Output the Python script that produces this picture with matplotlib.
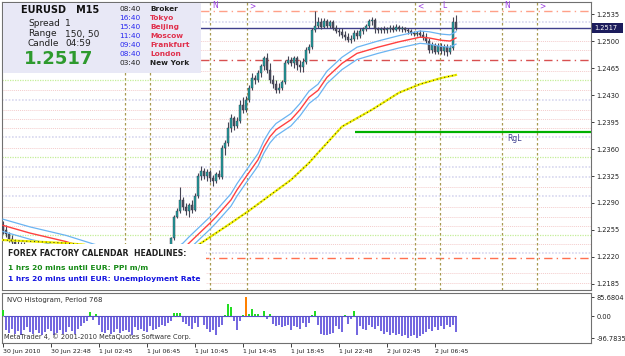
import numpy as np
import matplotlib
matplotlib.use("Agg")
import matplotlib.pyplot as plt
from matplotlib.patches import Rectangle

# ---- data ----
opens = [1.2262, 1.2255, 1.2250, 1.2243, 1.2240, 1.2236, 1.2233, 1.2231,
         1.2229, 1.2225, 1.2220, 1.2214, 1.2210, 1.2215, 1.2208, 1.2203,
         1.2206, 1.2200, 1.2197, 1.2202, 1.2207, 1.2204, 1.2210, 1.2214,
         1.2211, 1.2216, 1.2220, 1.2218, 1.2223, 1.2219, 1.2224, 1.2221,
         1.2226, 1.2222, 1.2217, 1.2212, 1.2215, 1.2209, 1.2205, 1.2210,
         1.2206, 1.2212, 1.2208, 1.2214, 1.2211, 1.2217, 1.2213, 1.2219,
         1.2215, 1.2220, 1.2216, 1.2222, 1.2218, 1.2224, 1.2221, 1.2226,
         1.2235, 1.2244, 1.2272, 1.2279, 1.2294, 1.2285, 1.2279, 1.2288,
         1.2281, 1.2299, 1.2325, 1.2331, 1.2325, 1.2330, 1.2322, 1.2318,
         1.2327, 1.2324, 1.2361, 1.2368, 1.2387, 1.2400, 1.2390, 1.2396,
         1.2417, 1.2411, 1.2424, 1.2439, 1.2452, 1.2449, 1.2459, 1.2468,
         1.2478, 1.2462, 1.2449, 1.2444, 1.2437, 1.2439, 1.2447, 1.2472,
         1.2475, 1.2471, 1.2478, 1.2469, 1.2466, 1.2473, 1.2488, 1.2492,
         1.2514, 1.2519, 1.2525, 1.2518, 1.2526, 1.2519, 1.2525, 1.2517,
         1.2513, 1.2512, 1.2508, 1.2505, 1.2501, 1.2503, 1.2510, 1.2506,
         1.2513, 1.2516, 1.2519, 1.2526, 1.2527, 1.2516, 1.2514, 1.2516,
         1.2514, 1.2516, 1.2517, 1.2514, 1.2518, 1.2516, 1.2517, 1.2514,
         1.2513, 1.2510, 1.2509, 1.2510, 1.2508, 1.2505, 1.2500, 1.2488,
         1.2495, 1.2486, 1.2493, 1.2487, 1.2492, 1.2486, 1.2491, 1.2525]
highs = [1.2267, 1.2262, 1.2253, 1.2248, 1.2243, 1.2241, 1.2240, 1.2239,
         1.2232, 1.2228, 1.2223, 1.2217, 1.2218, 1.2217, 1.2211, 1.2209,
         1.2209, 1.2203, 1.2205, 1.2210, 1.2210, 1.2213, 1.2217, 1.2217,
         1.2219, 1.2223, 1.2223, 1.2226, 1.2226, 1.2227, 1.2227, 1.2229,
         1.2229, 1.2225, 1.2220, 1.2218, 1.2218, 1.2212, 1.2213, 1.2213,
         1.2215, 1.2215, 1.2217, 1.2217, 1.2220, 1.2220, 1.2222, 1.2222,
         1.2223, 1.2223, 1.2225, 1.2225, 1.2227, 1.2227, 1.2229, 1.2234,
         1.2246, 1.2275, 1.2284, 1.2311, 1.2298, 1.2290, 1.2290, 1.2294,
         1.2303, 1.2329, 1.2338, 1.2335, 1.2334, 1.2333, 1.2326, 1.2330,
         1.2333, 1.2365, 1.2372, 1.2395, 1.2405, 1.2403, 1.2402, 1.2424,
         1.2427, 1.2429, 1.2443, 1.2459, 1.2456, 1.2462, 1.2470, 1.2481,
         1.2484, 1.2471, 1.2456, 1.2449, 1.2446, 1.2449, 1.2475, 1.2481,
         1.2479, 1.2481, 1.2481, 1.2475, 1.2478, 1.2492, 1.2496, 1.2517,
         1.2539, 1.2531, 1.2530, 1.2530, 1.2529, 1.2527, 1.2527, 1.2521,
         1.2517, 1.2517, 1.2513, 1.2510, 1.2508, 1.2514, 1.2514, 1.2517,
         1.2518, 1.2522, 1.2529, 1.2531, 1.2530, 1.2518, 1.2518, 1.2519,
         1.2518, 1.2521, 1.2521, 1.2522, 1.2521, 1.2519, 1.2518, 1.2517,
         1.2516, 1.2513, 1.2513, 1.2514, 1.2513, 1.2510, 1.2504, 1.2499,
         1.2497, 1.2497, 1.2497, 1.2496, 1.2496, 1.2495, 1.2531, 1.2534]
lows = [1.2250, 1.2246, 1.2240, 1.2236, 1.2232, 1.2230, 1.2228, 1.2226,
        1.2222, 1.2217, 1.2211, 1.2207, 1.2207, 1.2205, 1.2200, 1.2200,
        1.2197, 1.2194, 1.2195, 1.2199, 1.2201, 1.2202, 1.2207, 1.2208,
        1.2208, 1.2213, 1.2215, 1.2215, 1.2216, 1.2216, 1.2218, 1.2218,
        1.2219, 1.2214, 1.2209, 1.2210, 1.2206, 1.2202, 1.2203, 1.2203,
        1.2204, 1.2205, 1.2206, 1.2208, 1.2209, 1.2210, 1.2211, 1.2212,
        1.2213, 1.2213, 1.2214, 1.2215, 1.2216, 1.2218, 1.2219, 1.2223,
        1.2229, 1.2242, 1.2270, 1.2277, 1.2281, 1.2275, 1.2272, 1.2277,
        1.2279, 1.2296, 1.2320, 1.2321, 1.2319, 1.2317, 1.2312, 1.2316,
        1.2321, 1.2321, 1.2352, 1.2364, 1.2382, 1.2385, 1.2387, 1.2394,
        1.2407, 1.2408, 1.2421, 1.2436, 1.2444, 1.2447, 1.2453, 1.2462,
        1.2459, 1.2446, 1.2439, 1.2433, 1.2433, 1.2437, 1.2444, 1.2470,
        1.2468, 1.2465, 1.2462, 1.2460, 1.2460, 1.2470, 1.2484, 1.2490,
        1.2512, 1.2517, 1.2516, 1.2517, 1.2517, 1.2517, 1.2514, 1.2510,
        1.2506, 1.2504, 1.2501, 1.2499, 1.2497, 1.2500, 1.2503, 1.2504,
        1.2509, 1.2513, 1.2517, 1.2521, 1.2510, 1.2510, 1.2510, 1.2510,
        1.2510, 1.2512, 1.2512, 1.2513, 1.2513, 1.2512, 1.2512, 1.2509,
        1.2508, 1.2506, 1.2506, 1.2505, 1.2501, 1.2497, 1.2484, 1.2484,
        1.2483, 1.2483, 1.2483, 1.2482, 1.2480, 1.2483, 1.2488, 1.2514]
closes = [1.2255, 1.2250, 1.2243, 1.2240, 1.2236, 1.2233, 1.2231, 1.2229,
          1.2225, 1.2220, 1.2214, 1.2210, 1.2215, 1.2208, 1.2203, 1.2206,
          1.2200, 1.2197, 1.2202, 1.2207, 1.2204, 1.2210, 1.2214, 1.2211,
          1.2216, 1.2220, 1.2218, 1.2223, 1.2219, 1.2224, 1.2221, 1.2226,
          1.2222, 1.2217, 1.2212, 1.2215, 1.2209, 1.2205, 1.2210, 1.2206,
          1.2212, 1.2208, 1.2214, 1.2211, 1.2217, 1.2213, 1.2219, 1.2215,
          1.2220, 1.2216, 1.2222, 1.2218, 1.2224, 1.2221, 1.2226, 1.2233,
          1.2244, 1.2272, 1.2279, 1.2294, 1.2285, 1.2279, 1.2288, 1.2281,
          1.2299, 1.2325, 1.2331, 1.2325, 1.2330, 1.2322, 1.2318, 1.2327,
          1.2324, 1.2361, 1.2368, 1.2387, 1.2400, 1.2390, 1.2396, 1.2417,
          1.2411, 1.2424, 1.2439, 1.2452, 1.2449, 1.2459, 1.2468, 1.2478,
          1.2462, 1.2449, 1.2444, 1.2437, 1.2439, 1.2447, 1.2472, 1.2475,
          1.2471, 1.2478, 1.2469, 1.2466, 1.2473, 1.2488, 1.2492, 1.2514,
          1.2519, 1.2525, 1.2518, 1.2526, 1.2519, 1.2525, 1.2517, 1.2513,
          1.2512, 1.2508, 1.2505, 1.2501, 1.2503, 1.2510, 1.2506, 1.2513,
          1.2516, 1.2519, 1.2526, 1.2527, 1.2516, 1.2514, 1.2516, 1.2514,
          1.2516, 1.2517, 1.2514, 1.2518, 1.2516, 1.2517, 1.2514, 1.2513,
          1.2510, 1.2509, 1.2510, 1.2508, 1.2505, 1.2500, 1.2488, 1.2495,
          1.2486, 1.2493, 1.2487, 1.2492, 1.2486, 1.2491, 1.2525, 1.2517]

# NVO histogram (one value per bar)
nvo = [30, -60, -75, -55, -80, -65, -85, -60, -50, -70, -80, -60, -75, -85, -70, -55,
       -65, -85, -75, -60, -80, -70, -50, -65, -80, -55, -45, -30, -20, 18, -15, 12,
       -40, -70, -75, -60, -80, -70, -55, -75, -65, -60, -70, -85, -50, -60, -55, -65,
       -70, -45, -60, -55, -50, -40, -45, -30, -20, 15, 15, 15, -25, -35, -45, -55,
       -30, -50, 3, -40, -55, -70, -60, -85, -50, -40, 6, 56, 41, -20, -62, -20,
       5, 85.6804, 10, 32, 10, 10, -5, 25, -10, 10, -35, -45, -40, -50, -45, -40,
       -60, -45, -50, -55, -30, -50, -30, 5, 22, -40, -80, -85, -85, -80, -75, -45,
       -55, -70, 5, -35, -12, 22, -85, -45, -55, -60, -40, -50, -55, -45, -65, -80,
       -70, -85, -75, -85, -80, -90, -85, -95, -90, -85, -96.7835, -90, -80, -70, -55, -65,
       -50, -60, -45, -55, -40, -50, -40, -70]

# moving averages (bar index, price)
ma_x = [0, 9, 21, 30, 40, 50, 57, 60, 62, 69, 71, 76, 78, 81, 85, 87, 89, 91, 96, 99,
        102, 105, 108, 113, 118, 125, 132, 139, 142, 146, 149, 151]
ma_mid = [1.2261, 1.2251, 1.2240, 1.2229, 1.2218, 1.2214, 1.2222, 1.2230, 1.2238,
          1.2264, 1.2272, 1.2294, 1.2307, 1.2324, 1.2346, 1.2363, 1.2376, 1.2385,
          1.2398, 1.2411, 1.2427, 1.2436, 1.2453, 1.2471, 1.2484, 1.2492, 1.2499,
          1.2505, 1.2504, 1.2501, 1.2500, 1.2504]
band = 0.0008
slow_x = [0, 21, 27, 39, 52, 62, 66, 76, 82, 89, 96, 102, 105, 113, 123, 132, 139, 146, 151]
slow_ma = [1.2242, 1.2238, 1.2236, 1.2222, 1.2216, 1.2228, 1.2238, 1.2264, 1.2280,
           1.2300, 1.2320, 1.2342, 1.2355, 1.2389, 1.2411, 1.2433, 1.2444, 1.2452, 1.2456]

# horizontal levels
pink_levels = [1.2500, 1.2488, 1.2461, 1.2437, 1.2411, 1.2399, 1.2387, 1.2361,
               1.2311, 1.2285, 1.2272, 1.2260, 1.2237, 1.2199, 1.2186]
lav_levels = [1.2525, 1.2424, 1.2376, 1.2337, 1.2324, 1.2299, 1.2225]
green_levels = [1.2449, 1.2350, 1.2249]
bid = 1.2517
rgl = 1.2382
rgl_start = 117.3

# session separators and their tags
vlines = [40.7, 49, 69, 81.3, 137.3, 145.7, 166.3, 178]
vtags = {69: "N", 81.3: ">", 137.3: "<", 145.7: "L", 166.3: "N", 178: ">"}

price_ticks = [1.2535, 1.2500, 1.2465, 1.2430, 1.2395, 1.2360, 1.2325,
               1.2290, 1.2255, 1.2220, 1.2185]
time_pos = [0, 16, 32, 48, 64, 80, 96, 112, 128, 144]
time_labels = ["30 Jun 2010", "30 Jun 22:48", "1 Jul 02:45", "1 Jul 06:45",
               "1 Jul 10:45", "1 Jul 14:45", "1 Jul 18:45", "1 Jul 22:48",
               "2 Jul 02:45", "2 Jul 06:45"]

W, H = 625, 356
fig = plt.figure(figsize=(W / 100, H / 100), dpi=100)
fig.patch.set_facecolor("white")

def box(l, t, r, b):
    return [l / W, 1 - b / H, (r - l) / W, (b - t) / H]

ax = fig.add_axes(box(2, 2, 591, 290))
sub = fig.add_axes(box(2, 293, 591, 343))

idx = np.arange(len(closes))
o = np.array(opens); c = np.array(closes)
hi = np.array(highs); lo = np.array(lows)
xlim = (-0.33, 196)

dots = (0, (1, 1))
for p in pink_levels:
    ax.axhline(p, color="#f4cccc", lw=0.7, ls=dots, zorder=1)
for p in lav_levels:
    ax.axhline(p, color="#d8d8f0", lw=1.2, ls=dots, zorder=1)
for p in green_levels:
    ax.axhline(p, color="#c4ee98", lw=0.9, ls=dots, zorder=1)
dashdot = (0, (6, 3, 1, 3))
ax.axhline(1.2539, color="#ffa088", lw=1.0, ls=dashdot, zorder=1)
ax.axhline(1.2475, color="#d85050", lw=1.0, ls=dashdot, zorder=1)
ax.axhline(1.2219, color="#ff7050", lw=1.0, ls=dashdot, zorder=1)
ax.axhline(bid, color="#40408c", lw=1.0, zorder=2)
ax.hlines(rgl, rgl_start, xlim[1], color="#00b000", lw=1.6, zorder=2)
ax.text(168, rgl - 0.0002, "RgL", color="#404090", fontsize=5.5, va="top")

for v in vlines:
    ax.axvline(v, color="#a89a50", lw=0.9, ls=(0, (2, 2)), zorder=1)
for v, t in vtags.items():
    ax.text(v + 0.7, 1.25455, t, color="#9a3ee0", fontsize=5.5, va="center")

# indicators
ax.plot(ma_x, np.array(ma_mid) + band, color="#6ab4f2", lw=0.9, zorder=5)
ax.plot(ma_x, np.array(ma_mid) - band, color="#6ab4f2", lw=0.9, zorder=5)
ax.plot(ma_x, ma_mid, color="#ff4040", lw=1.0, zorder=5)
ax.plot(slow_x, slow_ma, color="#f0f000", lw=1.6, zorder=5)
ax.plot(slow_x, slow_ma, color="#202020", lw=0.7, ls=(0, (1, 3)), zorder=6)

# candles
up = c >= o
ax.vlines(idx, lo, hi, color="#454555", lw=0.8, zorder=3)
body = np.maximum(np.abs(c - o), 0.00006)
ax.bar(idx, body, bottom=np.minimum(o, c), width=0.62,
       color=np.where(up, "#1f9e9e", "#4e5060"), edgecolor="#353545",
       linewidth=0.3, zorder=4)

ax.set_xlim(*xlim)
ax.set_ylim(1.21772, 1.25506)
ax.yaxis.tick_right()
ax.set_yticks(price_ticks)
ax.set_yticklabels(["%.4f" % p for p in price_ticks])
ax.tick_params(axis="y", length=2, width=0.6, labelsize=4.8, pad=2, colors="#202020")
ax.set_xticks([])
for s in ax.spines.values():
    s.set_color("#707070"); s.set_linewidth(0.8)

# NVO histogram
vals = np.array(nvo)
sub.bar(idx, vals, width=0.66,
        color=[("#ff8000" if v > 80 else "#22dd22") if v > 0 else "#7468e0" for v in vals],
        linewidth=0, zorder=3)
sub.hlines(0, 0, idx[-1], color="#5a50c8", lw=0.8, zorder=4)
sub.set_xlim(*xlim)
sub.set_ylim(-119, 103.5)
sub.yaxis.tick_right()
sub.set_yticks([85.6804, 0, -96.7835])
sub.set_yticklabels(["85.6804", "0.00", "-96.7835"])
sub.tick_params(axis="y", length=2, width=0.6, labelsize=4.8, pad=2, colors="#202020")
sub.set_xticks(time_pos)
sub.set_xticklabels(time_labels, ha="left")
sub.tick_params(axis="x", length=3, width=0.6, labelsize=4.5, pad=1, colors="#202020")
for s in sub.spines.values():
    s.set_color("#707070"); s.set_linewidth(0.8)
sub.text(0.008, 0.86, "NVO Histogram, Period 768", transform=sub.transAxes,
         fontsize=5, color="#303030", va="center")
sub.text(0.003, 0.12, "MetaTrader 4, \u00a9 2001-2010 MetaQuotes Software Corp.",
         transform=sub.transAxes, fontsize=4.8, color="#303030", va="center")

# overlay in pixel coordinates for the label panels
ov = fig.add_axes([0, 0, 1, 1])
ov.set_xlim(0, W); ov.set_ylim(H, 0); ov.axis("off")
ov.add_patch(Rectangle((2.5, 2.5), 198, 70, facecolor="#e8e8f6", edgecolor="none"))
ov.add_patch(Rectangle((2.5, 244), 203, 45.5, facecolor="white", edgecolor="none"))
ov.add_patch(Rectangle((592, 23), 31, 10, facecolor="#1c1c5c", edgecolor="none"))
ov.text(594, 28, "1.2517", color="white", fontsize=4.8, va="center")

ov.text(21, 10, "EURUSD   M15", fontsize=7, fontweight="bold", color="#101010", va="center")
for row, (k, v) in enumerate([("Spread", "1"), ("Range", "150, 50"), ("Candle", "04:59")]):
    ov.text(28, 24 + row * 10, k, fontsize=6.5, color="#202020", va="center")
    ov.text(65, 24 + row * 10, v, fontsize=6.5, color="#202020", va="center")
ov.text(24, 59, "1.2517", fontsize=13, fontweight="bold", color="#2e9a2e", va="center")

times = ["08:40", "16:40", "15:40", "11:40", "09:40", "08:40", "03:40"]
cities = ["Broker", "Tokyo", "Beijing", "Moscow", "Frankfurt", "London", "New York"]
for row, (t, name) in enumerate(zip(times, cities)):
    edge = row in (0, len(times) - 1)
    ov.text(119, 9 + row * 9, t, fontsize=5.3, color="#202020" if edge else "#2828f0", va="center")
    ov.text(150, 9 + row * 9, name, fontsize=5.3, fontweight="bold",
            color="#202020" if edge else "#e0304c", va="center")

ov.text(8, 254, "FOREX FACTORY CALENDAR  HEADLINES:", fontsize=5.6, fontweight="bold",
        color="#202020", va="center")
ov.text(8, 268, "1 hrs 20 mins until EUR: PPI m/m", fontsize=5.4, fontweight="bold",
        color="#168a16", va="center")
ov.text(8, 279, "1 hrs 20 mins until EUR: Unemployment Rate", fontsize=5.4, fontweight="bold",
        color="#1414e0", va="center")

fig.savefig("out.png", dpi=100)
